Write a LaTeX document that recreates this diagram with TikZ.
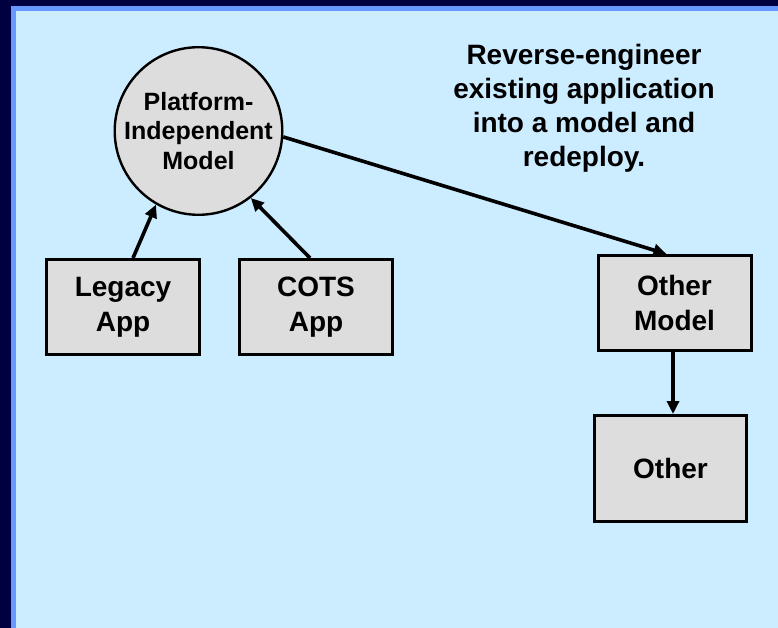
\documentclass[tikz,border=0pt]{standalone}
\usepackage{fontspec}
\setmainfont{Liberation Sans}
\usetikzlibrary{calc,arrows.meta}
\definecolor{navyframe}{HTML}{000040}
\definecolor{stripblue}{HTML}{6699FF}
\definecolor{panelblue}{HTML}{CCECFF}
\definecolor{boxgray}{HTML}{DDDDDD}
\tikzset{
  stepbox/.style={draw=black, line width=3pt, fill=boxgray, rectangle,
    minimum width=153pt, minimum height=95pt, inner sep=0pt, align=center,
    font=\fontsize{28}{35}\selectfont\bfseries},
  modelcircle/.style={draw=black, line width=2.4pt, fill=boxgray, circle,
    minimum size=161pt, inner sep=0pt, align=center,
    font=\fontsize{25}{29.5}\selectfont\bfseries},
  note/.style={align=center, inner sep=0pt,
    font=\fontsize{28}{34}\selectfont\bfseries},
  link/.style={draw=black, line width=3.6pt,
    -{Triangle[length=13pt,width=12pt]}}
}
\begin{document}
\begin{tikzpicture}[x=1pt,y=-1pt]
  % frame and panel
  \fill[navyframe] (0,0) rectangle (778,628);
  \fill[stripblue] (11,6) rectangle (778,628);
  \fill[panelblue] (16,11) rectangle (778,628);
  \useasboundingbox (0,0) rectangle (778,628);

  % nodes
  \node[modelcircle] (pim) at (198.5,131) {Platform-\\Independent\\Model};
  \node[stepbox] (legacy) at (123,307) {Legacy\\App};
  \node[stepbox] (cots) at (316,307) {COTS\\App};
  \node[stepbox] (om) at (674.5,303) {Other\\Model};
  \node[stepbox, minimum width=152pt, minimum height=106pt] (other) at (670.5,468.5) {Other};
  \node[note] (txt) at (584,108.5) {Reverse-engineer\\existing application\\into a model and\\redeploy.};

  % connector end points on box edges
  \coordinate (legtop) at ($(legacy.north)+(10,0)$);
  \coordinate (cotstop) at ($(cots.north)+(-6,0)$);
  \coordinate (omtop) at ($(om.north)+(-8,0)$);
  \coordinate (ombot) at ($(om.south)+(-1.5,0)$);
  \coordinate (othtop) at (ombot |- other.north);

  % connectors
  \draw[link] (legtop) -- (pim.240);
  \draw[link] (cotstop) -- (pim.308);
  \draw[link] (pim.-4) -- (omtop);
  \draw[link] (ombot) -- (othtop);
\end{tikzpicture}
\end{document}
